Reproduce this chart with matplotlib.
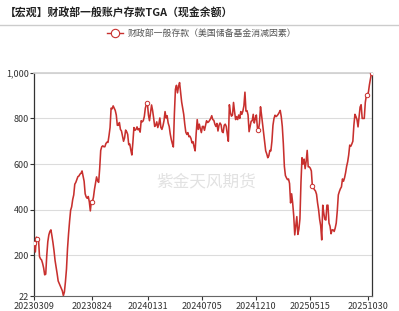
import numpy as np
import pandas as pd
import matplotlib
matplotlib.use("Agg")
import matplotlib.pyplot as plt
import matplotlib.dates as mdates
import matplotlib.ticker as ticker

# ─────────────────────────────────────────────────────────────
#  字体 / 样式
# ─────────────────────────────────────────────────────────────
plt.rcParams["font.family"] = ["Noto Sans CJK SC", "DejaVu Sans"]
plt.rcParams["axes.unicode_minus"] = False

COR_LINHA = "#C8302E"
COR_TEXTO = "#333333"

# ─────────────────────────────────────────────────────────────
#  数据（每 3 天一个读数，单位：十亿美元）
# ─────────────────────────────────────────────────────────────
DATA_INICIO = "2023-03-09"
PASSO_DIAS = 3
TGA = [
    255, 215, 280, 270, 275, 195, 185, 180, 165, 145,
    115, 118, 200, 260, 290, 305, 312, 285, 255, 220,
    178, 150, 120, 88, 77, 66, 55, 45, 24, 40,
    85, 140, 230, 295, 350, 398, 413, 445, 465, 512,
    520, 532, 545, 548, 556, 560, 570, 548, 525, 470,
    456, 450, 458, 435, 395, 440, 435, 455, 490, 518,
    544, 527, 520, 580, 660, 676, 680, 676, 676, 690,
    696, 695, 725, 760, 845, 842, 855, 845, 835, 815,
    770, 770, 782, 752, 745, 722, 700, 715, 749, 742,
    730, 685, 688, 662, 640, 695, 760, 748, 752, 763,
    750, 755, 740, 790, 785, 790, 808, 845, 862, 866,
    815, 790, 825, 859, 835, 802, 765, 770, 785, 760,
    775, 802, 760, 752, 768, 790, 830, 802, 812, 780,
    765, 732, 708, 690, 675, 820, 928, 945, 912, 940,
    957, 915, 872, 845, 818, 775, 740, 730, 738, 720,
    722, 712, 693, 698, 675, 658, 735, 795, 752, 775,
    755, 738, 765, 765, 748, 768, 790, 782, 785, 792,
    800, 812, 795, 792, 775, 765, 778, 745, 770, 780,
    772, 742, 738, 770, 775, 765, 730, 700, 860, 825,
    810, 815, 870, 830, 795, 808, 795, 815, 800, 830,
    818, 832, 855, 915, 832, 834, 815, 742, 765, 788,
    790, 818, 780, 800, 815, 760, 748, 780, 851, 815,
    775, 735, 695, 658, 645, 628, 636, 660, 658, 700,
    770, 800, 814, 808, 812, 818, 826, 835, 808, 765,
    690, 590, 550, 540, 532, 535, 515, 430, 470, 430,
    375, 290, 330, 370, 292, 315, 360, 520, 628, 600,
    622, 580, 612, 660, 588, 588, 582, 570, 502, 496,
    488, 482, 468, 430, 400, 358, 330, 268, 420, 385,
    358, 355, 420, 420, 342, 328, 295, 312, 312, 305,
    320, 342, 395, 465, 480, 492, 500, 535, 525, 540,
    562, 590, 610, 640, 683, 678, 688, 700, 770, 818,
    808, 795, 763, 805, 850, 860, 800, 800, 800, 870,
    900, 903, 915, 948, 975, 1000,
]
# 显示空心圆标记的数据点序号
PONTOS_MARCADOS = [0, 3, 56, 109, 216, 268, 321, 325]

DATAS_TICK = ["20230309", "20230824", "20240131", "20240705",
              "20241210", "20250515", "20251030"]
Y_TICKS = [22, 200, 400, 600, 800, 1000]

TITULO = "【宏观】财政部一般账户存款TGA（现金余额）"
LEGENDA = "财政部一般存款（美国储备基金消减因素）"
MARCA = "紫金天风期货"

# ─────────────────────────────────────────────────────────────
#  绘图
# ─────────────────────────────────────────────────────────────
datas = pd.date_range(DATA_INICIO, periods=len(TGA), freq=f"{PASSO_DIAS}D")
ticks = pd.to_datetime(DATAS_TICK, format="%Y%m%d")

fig = plt.figure(figsize=(3.99, 3.11), dpi=100)
ax = fig.add_axes([0.086, 0.048, 0.846, 0.718])

ax.plot(datas, TGA, color=COR_LINHA, lw=1.15, zorder=3,
        marker="o", markevery=PONTOS_MARCADOS, markersize=3.2,
        markerfacecolor="white", markeredgecolor=COR_LINHA, markeredgewidth=0.7)

ax.set_ylim(22, 1000)
ax.set_xlim(datas[0], datas[-1] + pd.Timedelta(days=1))
ax.set_yticks(Y_TICKS)
ax.yaxis.set_major_formatter(ticker.FuncFormatter(lambda v, p: f"{int(v):,}"))
ax.set_xticks(ticks)
ax.xaxis.set_major_formatter(mdates.DateFormatter("%Y%m%d"))

ax.grid(axis="y", color="#dcdcdc", lw=0.8)
ax.set_axisbelow(True)
ax.tick_params(axis="both", labelsize=6.5, colors=COR_TEXTO, length=3, width=0.8, pad=1)

for lado in ["left", "right"]:
    ax.spines[lado].set_color("#333333")
    ax.spines[lado].set_linewidth(0.9)
ax.spines["bottom"].set_color("#666666")
ax.spines["top"].set_color("#d0d0d0")
ax.spines["top"].set_linewidth(1.2)

# 标题 + 分隔线
fig.text(0.012, 0.957, TITULO, fontsize=7.8, fontweight="bold", color="#222222",
         va="center", ha="left")
fig.add_artist(plt.Line2D([0, 1], [0.921, 0.921], color="#cccccc", lw=1.0))

# 图例
leg_y = 0.893
fig.add_artist(plt.Line2D([0.268, 0.308], [leg_y, leg_y], color=COR_LINHA, lw=1.0))
fig.add_artist(plt.Line2D([0.288], [leg_y], color=COR_LINHA, marker="o", markersize=6,
                          markerfacecolor="white", markeredgecolor=COR_LINHA,
                          markeredgewidth=0.8, lw=0))
fig.text(0.32, leg_y, LEGENDA, fontsize=6.4, color="#555555", va="center", ha="left")

# 水印
ax.text(0.51, 0.51, MARCA, transform=ax.transAxes, fontsize=12, color="#e2e2e2",
        ha="center", va="center", zorder=1)

fig.savefig("out.png", dpi=100)
